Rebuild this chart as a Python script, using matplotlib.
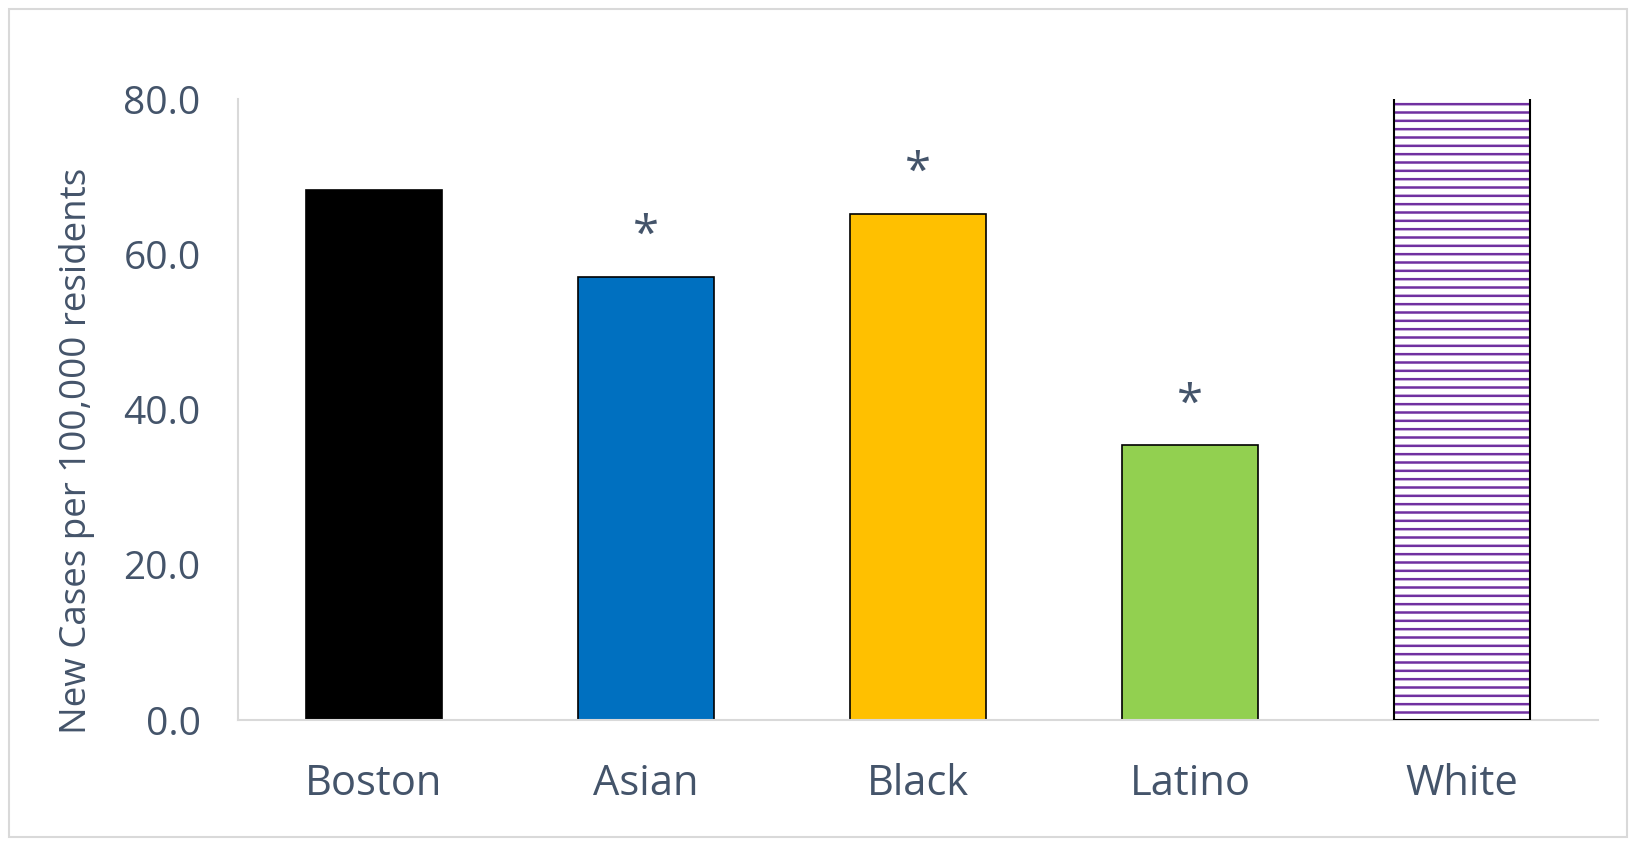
import matplotlib
matplotlib.use("Agg")
import matplotlib.pyplot as plt
from matplotlib.patches import Rectangle

categories = ["Boston", "Asian", "Black", "Latino", "White"]
values = [68.3, 57.1, 65.2, 35.4, 86.0]
significant = [False, True, True, True, False]
colors = ["#000000", "#0070C0", "#FFC000", "#92D050", "#FFFFFF"]
hatches = [None, None, None, None, "--"]
yticks = [0, 20, 40, 60, 80]

text_color = "#44546A"
plt.rcParams['font.family'] = ['Open Sans', 'DejaVu Sans']
plt.rcParams['hatch.linewidth'] = 1.8

fig = plt.figure(figsize=(16.36, 8.46), dpi=100)
fig.patch.set_facecolor("white")
fig.add_artist(Rectangle((9/1636, 9/846), 1 - 18/1636, 1 - 18/846, transform=fig.transFigure,
                         fill=False, edgecolor="#D9D9D9", linewidth=1.5))
ax = fig.add_axes([238/1636, 1 - 720/846, (1598 - 238)/1636, (720 - 99)/846])

x = list(range(len(categories)))
for i, (v, c, h) in enumerate(zip(values, colors, hatches)):
    if h:
        ax.bar(i, v, width=0.5, color=c, hatch=h, edgecolor="#7030A0", linewidth=0, zorder=2)
        ax.bar(i, v, width=0.5, fill=False, edgecolor="black", linewidth=1.5, zorder=3)
    else:
        ax.bar(i, v, width=0.5, color=c, edgecolor="black", linewidth=1.2, zorder=2)
    if significant[i]:
        ax.annotate("*", (i, v), xytext=(0, 12), textcoords="offset points",
                    ha="center", va="bottom", fontsize=34, color=text_color)

ax.set_xlim(-0.5, len(categories) - 0.5)
ax.set_ylim(0, 80)
ax.set_yticks(yticks)
ax.set_yticklabels([f"{t:.1f}" for t in yticks])
ax.set_xticks(x)
ax.set_xticklabels(categories)
ax.tick_params(axis="both", length=0, colors=text_color)
ax.tick_params(axis="y", pad=27, labelsize=28)
ax.tick_params(axis="x", pad=31, labelsize=30)
ax.set_ylabel("New Cases per 100,000 residents", fontsize=26.5, color=text_color)
ax.yaxis.set_label_coords(-0.105, 0.434)

for s in ["top", "right"]:
    ax.spines[s].set_visible(False)
for s in ["left", "bottom"]:
    ax.spines[s].set_color("#D9D9D9")
    ax.spines[s].set_linewidth(1.5)

fig.savefig("out.png", dpi=100)
